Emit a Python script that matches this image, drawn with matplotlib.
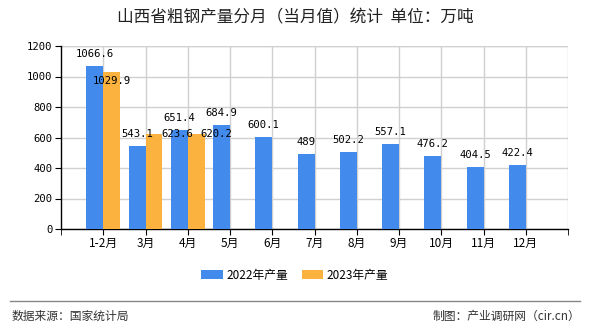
import numpy as np
import matplotlib.pyplot as plt

# data
months = ["1-2月", "3月", "4月", "5月", "6月", "7月", "8月", "9月", "10月", "11月", "12月"]
prod_2022 = [1066.6, 543.1, 651.4, 684.9, 600.1, 489, 502.2, 557.1, 476.2, 404.5, 422.4]
prod_2023 = [1029.9, 623.6, 620.2]

# label nudges for the 2023 series (pixels), as in the source chart
nudge_2023 = [(0, -9), (23, 0), (20, 0)]

plt.rcParams['font.family'] = ['Noto Sans CJK SC', 'DejaVu Sans']
blue = '#428bed'
orange = '#fbb23f'
grid_c = '#d0d0d0'
mono = ['DejaVu Sans Mono', 'Noto Sans CJK SC']

fig = plt.figure(figsize=(5.9, 3.3), dpi=100)
ax = fig.add_axes([61/590, 1-229/330, (568-61)/590, (229-46)/330])

x = np.arange(len(months))
w = 0.4
b1 = ax.bar(x - w/2, prod_2022, w, color=blue, label='2022年产量', zorder=3)
b2 = ax.bar(x[:len(prod_2023)] + w/2, prod_2023, w, color=orange, label='2023年产量', zorder=3)

px = 0.72  # pixels -> points
for xi, v in zip(x, prod_2022):
    ax.annotate(f"{v:g}", (xi - w/2, v), xytext=(0, 12*px), textcoords='offset points',
                ha='center', va='center', fontsize=7.6, family=mono, zorder=5)
for xi, v, (dx, dy) in zip(x, prod_2023, nudge_2023):
    ax.annotate(f"{v:g}", (xi + w/2, v), xytext=(dx*px, dy*px), textcoords='offset points',
                ha='center', va='center', fontsize=7.6, family=mono, zorder=5)

ax.set_xlim(-1, 11)
ax.set_ylim(0, 1200)
ax.set_yticks(range(0, 1201, 200))
ax.set_xticks(x)
ax.set_xticklabels(months, fontsize=8.5)
ax.set_xticks([-1, 11], minor=True)
for lab in ax.get_yticklabels():
    lab.set_family(mono)
    lab.set_fontsize(7.6)

ax.grid(True, color=grid_c, linewidth=1, zorder=0)
ax.axvline(11, color=grid_c, linewidth=1, zorder=0)
ax.axhline(1200, color=grid_c, linewidth=1, zorder=0)
for s in ['top', 'right']:
    ax.spines[s].set_visible(False)
for s in ['left', 'bottom']:
    ax.spines[s].set_color('black')
    ax.spines[s].set_linewidth(1)
ax.tick_params(axis='both', which='both', length=4, color='black', pad=2)

fig.legend(handles=[b1, b2], loc='center', bbox_to_anchor=(0.5, 1-275/330), ncol=2,
           frameon=False, fontsize=8.5, handlelength=1.8, handleheight=0.9,
           columnspacing=1.2, handletextpad=0.3)

fig.text(0.5, 1-18/330, "山西省粗钢产量分月（当月值）统计  单位：万吨", ha='center', va='center',
         fontsize=12, color='#222222')
fig.add_artist(plt.Line2D([10/590, 580/590], [1-301/330, 1-301/330], color='#888888', linewidth=1))
fig.text(12/590, 1-316/330, "数据来源：国家统计局", ha='left', va='center', fontsize=8.5, color='#333333')
fig.text(580/590, 1-316/330, "制图：产业调研网（cir.cn）", ha='right', va='center', fontsize=8.5, color='#333333')

fig.savefig("out.png", dpi=100)
